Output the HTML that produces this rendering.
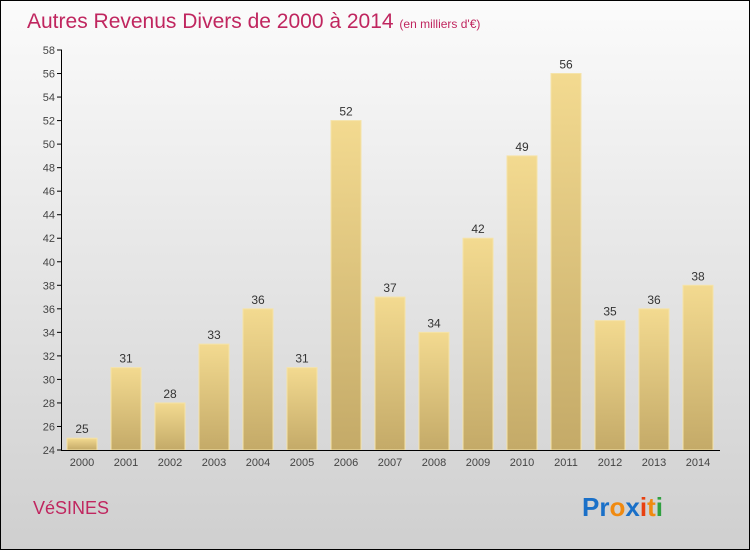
<!DOCTYPE html>
<html><head><meta charset="utf-8"><style>
html,body{margin:0;padding:0}
body{width:750px;height:550px;overflow:hidden;font-family:"Liberation Sans",sans-serif}
</style></head><body>
<svg width="750" height="550" xmlns="http://www.w3.org/2000/svg">
<defs>
<linearGradient id="bg" x1="0" y1="0" x2="0" y2="1"><stop offset="0" stop-color="#fbfbfb"/><stop offset="1" stop-color="#cfcfcf"/></linearGradient>
<linearGradient id="bar" x1="0" y1="0" x2="0" y2="1"><stop offset="0" stop-color="#f3da90"/><stop offset="1" stop-color="#c4aa68"/></linearGradient>
</defs>
<rect x="0.5" y="0.5" width="749" height="549" fill="url(#bg)" stroke="#000"/>
<text x="27" y="28" font-size="21" fill="#c0265f">Autres Revenus Divers de 2000 à 2014 <tspan font-size="12">(en milliers d'€)</tspan></text>
<g id="plot"></g>
<text x="33" y="514" font-size="18" fill="#c0265f">VéSINES</text>
<text x="582" y="516" font-size="26" font-weight="bold"><tspan fill="#1a70c8">Pr</tspan><tspan fill="#f08a10">o</tspan><tspan fill="#1a70c8">x</tspan><tspan fill="#e84010">i</tspan><tspan fill="#f08a10">t</tspan><tspan fill="#30a040">i</tspan></text>
</svg>
<script>
const years=["2000","2001","2002","2003","2004","2005","2006","2007","2008","2009","2010","2011","2012","2013","2014"];
const values=[25,31,28,33,36,31,52,37,34,42,49,56,35,36,38];
const yTicks=[24,26,28,30,32,34,36,38,40,42,44,46,48,50,52,54,56,58];
const NS="http://www.w3.org/2000/svg";
const g=document.getElementById('plot');
const y=v=>450-(v-24)*400/34;
const x=i=>82+i*44;
function mk(t,a){const e=document.createElementNS(NS,t);for(const k in a)e.setAttribute(k,a[k]);g.appendChild(e);return e;}
yTicks.forEach(t=>{
 const l=mk('line',{x1:57,x2:62,y1:y(t),y2:y(t),stroke:'#000'});
 
 
 const tx=mk('text',{x:55,y:y(t)+4,'font-size':11,fill:'#444','text-anchor':'end'});tx.textContent=t;
 
 
});
values.forEach((v,i)=>{
 const r=mk('rect',{x:x(i)-15,y:y(v),width:30,height:450-y(v),fill:'url(#bar)',stroke:'#f5e3a8','stroke-width':1});
 
 
 const t=mk('text',{x:x(i),y:y(v)-5,'font-size':12,fill:'#333','text-anchor':'middle'});t.textContent=v;
 
 
 const yl=mk('text',{x:x(i),y:466,'font-size':11,fill:'#444','text-anchor':'middle'});yl.textContent=years[i];
 
 
});
const ax=mk('path',{d:'M61.5 50V450.5H720',stroke:'#000',fill:'none'});


</script>
</body></html>
